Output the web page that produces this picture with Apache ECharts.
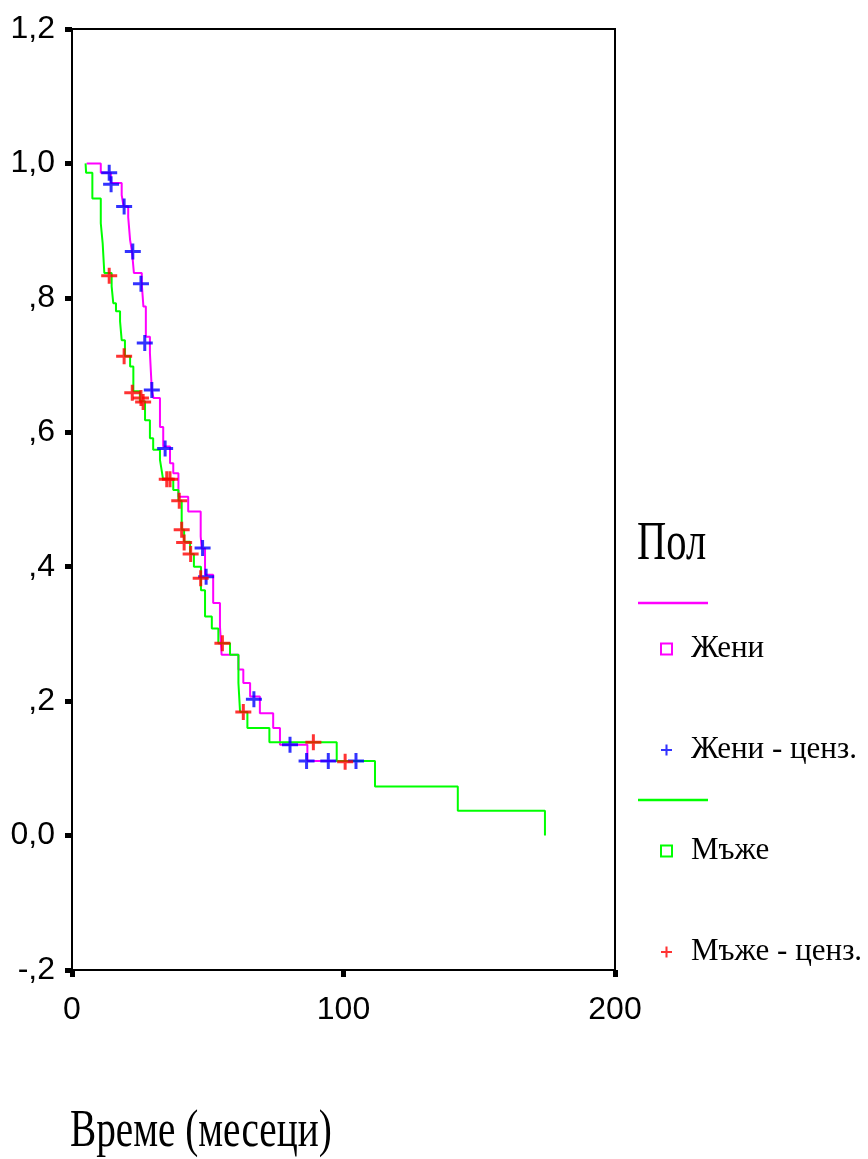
<!DOCTYPE html>
<html>
<head>
<meta charset="utf-8">
<title>Kaplan-Meier</title>
<script src="https://cdn.jsdelivr.net/npm/echarts@6/dist/echarts.min.js"></script>
<style>
  html, body { margin: 0; padding: 0; background: #fff; }
  #chart { width: 868px; height: 1159px; }
</style>
</head>
<body>
<div id="chart"></div>
<script>
// Жени - стъпки на кривата (време, преживяемост)
const femaleTime = [5.4, 10.6, 14.3, 18.3, 19.0, 20.7, 21.4, 22.1, 22.8, 25.7, 26.3, 27.2, 28.7, 29.4, 30.0, 32.4, 33.6, 36.1, 37.3, 39.2, 42.8, 47.4, 47.8, 49.0, 52.0, 54.5, 55.1, 61.3, 63.1, 65.6, 69.2, 74.1, 76.6, 86.7, 104.6]
const femaleSurv = [1.0, 0.986, 0.971, 0.953, 0.936, 0.920, 0.886, 0.869, 0.837, 0.821, 0.787, 0.742, 0.718, 0.663, 0.651, 0.608, 0.579, 0.554, 0.539, 0.504, 0.482, 0.445, 0.427, 0.388, 0.346, 0.311, 0.269, 0.247, 0.227, 0.207, 0.182, 0.160, 0.135, 0.111, 0.111]

// Мъже - стъпки на кривата
const maleTime = [5.0, 5.2, 7.5, 10.6, 11.3, 11.9, 14.6, 15.2, 16.2, 17.7, 18.3, 19.5, 21.4, 22.6, 25.0, 26.9, 28.7, 29.9, 32.4, 33.0, 33.5, 37.3, 39.2, 40.4, 41.3, 43.5, 44.9, 47.5, 49.0, 51.5, 53.9, 58.2, 61.3, 61.9, 64.6, 72.7, 97.5, 111.6, 142.1, 174.2]
const maleSurv = [1.0, 0.986, 0.948, 0.911, 0.881, 0.837, 0.817, 0.792, 0.780, 0.765, 0.737, 0.713, 0.698, 0.661, 0.646, 0.618, 0.591, 0.574, 0.559, 0.544, 0.531, 0.514, 0.498, 0.455, 0.437, 0.419, 0.400, 0.365, 0.326, 0.308, 0.286, 0.269, 0.227, 0.184, 0.160, 0.139, 0.111, 0.073, 0.037, 0.0]

// цензурирани наблюдения
const femaleCensTime = [13.7, 14.4, 19.2, 22.4, 25.4, 26.8, 29.4, 34.3, 48.1, 49.4, 67.0, 80.3, 86.4, 94.4, 104.6]
const femaleCensSurv = [0.986, 0.969, 0.936, 0.869, 0.821, 0.733, 0.663, 0.576, 0.428, 0.385, 0.203, 0.135, 0.111, 0.111, 0.111]
const maleCensTime = [13.7, 19.2, 22.2, 25.4, 26.2, 34.9, 36.1, 39.5, 40.4, 41.3, 43.7, 47.4, 55.4, 63.1, 88.9, 100.6]
const maleCensSurv = [0.833, 0.713, 0.659, 0.651, 0.645, 0.530, 0.530, 0.498, 0.455, 0.436, 0.419, 0.383, 0.286, 0.184, 0.139, 0.110]

// етикети по осите
const yTickLabels = ['-,2', '0,0', ',2', ',4', ',6', ',8', '1,0', '1,2']
const xTickLabels = ['0', '100', '200']

const PLUS = 'path://M6.5,0h3v16h-3zM0,6.5h16v3h-16z'
const numFont = '"Liberation Sans", Arial, sans-serif'
const serifFont = '"Liberation Serif", "Times New Roman", serif'

const zip = (a, b) => a.map((v, i) => [v, b[i]])

const chart = echarts.init(document.getElementById('chart'), null, { renderer: 'canvas' })

chart.setOption({
  animation: false,
  backgroundColor: '#fff',
  grid: {
    left: 72,
    top: 29,
    right: 253,
    bottom: 189,
    show: true,
    borderColor: '#000',
    borderWidth: 2
  },
  xAxis: {
    type: 'value',
    min: 0,
    max: 200,
    interval: 100,
    splitLine: { show: false },
    axisLine: { show: true, onZero: false, lineStyle: { color: '#000', width: 2 } },
    axisTick: { show: true, length: 7, lineStyle: { color: '#000', width: 5 } },
    axisLabel: {
      margin: 24,
      color: '#000',
      fontSize: 32,
      fontFamily: numFont,
      formatter: (v) => xTickLabels[Math.round(v / 100)]
    }
  },
  yAxis: {
    type: 'value',
    min: -0.2,
    max: 1.2,
    interval: 0.2,
    splitLine: { show: false },
    axisLine: { show: true, onZero: false, lineStyle: { color: '#000', width: 2 } },
    axisTick: { show: true, length: 7, lineStyle: { color: '#000', width: 5 } },
    axisLabel: {
      margin: 17,
      color: '#000',
      fontSize: 32,
      fontFamily: numFont,
      formatter: (v) => yTickLabels[Math.round((v + 0.2) / 0.2)]
    }
  },
  legend: {
    orient: 'vertical',
    left: 655,
    top: 624,
    itemWidth: 11,
    itemHeight: 11,
    itemGap: 61,
    selectedMode: false,
    textStyle: {
      color: '#000',
      fontSize: 31,
      fontFamily: serifFont,
      lineHeight: 40,
      padding: [0, 0, 0, 14]
    },
    data: [
      { name: 'Жени', icon: 'rect', itemStyle: { color: '#fff', borderColor: '#ff00ff', borderWidth: 2 } },
      { name: 'Жени - ценз.', icon: PLUS, itemStyle: { color: '#0000ff', borderWidth: 0 } },
      { name: 'Мъже', icon: 'rect', itemStyle: { color: '#fff', borderColor: '#00ff00', borderWidth: 2 } },
      { name: 'Мъже - ценз.', icon: PLUS, itemStyle: { color: '#ff0000', borderWidth: 0 } }
    ]
  },
  graphic: [
    {
      type: 'text',
      x: 637,
      y: 545,
      scaleX: 0.75,
      style: { text: 'Пол', x: 0, y: 0, fontSize: 54, fontFamily: serifFont, fill: '#000', verticalAlign: 'middle' }
    },
    {
      type: 'line',
      shape: { x1: 638, y1: 603, x2: 708, y2: 603 },
      style: { stroke: '#ff00ff', lineWidth: 2.5 }
    },
    {
      type: 'line',
      shape: { x1: 638, y1: 800, x2: 708, y2: 800 },
      style: { stroke: '#00ff00', lineWidth: 2.5 }
    },
    {
      type: 'text',
      x: 70,
      y: 1132,
      scaleX: 0.74,
      style: { text: 'Време (месеци)', x: 0, y: 0, fontSize: 53, fontFamily: serifFont, fill: '#000', verticalAlign: 'middle' }
    }
  ],
  series: [
    {
      name: 'Жени',
      type: 'line',
      step: 'end',
      data: zip(femaleTime, femaleSurv),
      showSymbol: false,
      color: '#ff00ff',
      lineStyle: { color: '#ff00ff', width: 2 },
      z: 2
    },
    {
      name: 'Мъже',
      type: 'line',
      step: 'end',
      data: zip(maleTime, maleSurv),
      showSymbol: false,
      color: '#00ff00',
      lineStyle: { color: '#00ff00', width: 2 },
      z: 3
    },
    {
      name: 'Жени - ценз.',
      type: 'scatter',
      data: zip(femaleCensTime, femaleCensSurv),
      symbol: PLUS,
      symbolSize: 16,
      itemStyle: { color: '#0000ff' },
      z: 4
    },
    {
      name: 'Мъже - ценз.',
      type: 'scatter',
      data: zip(maleCensTime, maleCensSurv),
      symbol: PLUS,
      symbolSize: 16,
      itemStyle: { color: '#ff0000' },
      z: 5
    }
  ]
})
</script>
</body>
</html>
